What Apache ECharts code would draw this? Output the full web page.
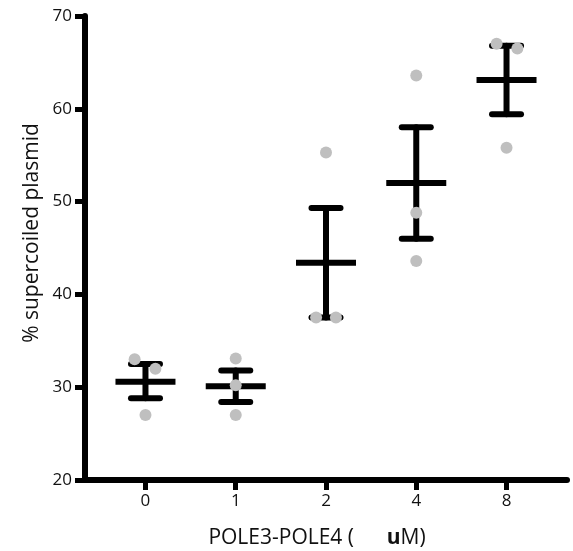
<!DOCTYPE html>
<html>
<head>
<meta charset="utf-8">
<script src="https://cdn.jsdelivr.net/npm/echarts@6/dist/echarts.min.js"></script>
<style>
  html, body { margin: 0; padding: 0; background: #fff; }
  #chart { width: 573px; height: 551px; }
</style>
</head>
<body>
<div id="chart"></div>
<script>
// doses (category labels)
const doses = ['0', '1', '2', '4', '8'];
// individual replicates
const rep1 = [33.0, 33.1, 55.3, 63.6, 67.0];
const rep2 = [32.0, 30.2, 37.5, 48.8, 66.5];
const rep3 = [27.0, 27.0, 37.5, 43.6, 55.8];
// small horizontal jitter of the dots (in category units)
const jit1 = [-0.12, 0, 0, 0, -0.11];
const jit2 = [0.11, 0, -0.11, 0, 0.12];
const jit3 = [0, 0, 0.11, 0, 0];
// mean and SEM bars
const means = [30.6, 30.1, 43.4, 52.0, 63.1];
const upper = [32.5, 31.8, 49.3, 58.0, 66.8];
const lower = [28.8, 28.4, 37.5, 46.0, 59.4];
const yTicks = [20, 30, 40, 50, 60, 70];

const myChart = echarts.init(document.getElementById('chart'));

const dots = [];
doses.forEach((d, i) => {
  dots.push([i + jit1[i], rep1[i]]);
  dots.push([i + jit2[i], rep2[i]]);
  dots.push([i + jit3[i], rep3[i]]);
});

const bars = doses.map((d, i) => [i, means[i], upper[i], lower[i]]);

const font = 'Open Sans';
const ink = '#111';

let option = {
  animation: false,
  grid: {
    left: 85,
    right: 6,
    top: 16,
    bottom: 71
  },
  xAxis: {
    type: 'value',
    min: -0.67,
    max: 4.67,
    axisLine: { onZero: false, lineStyle: { color: '#000', width: 6 } },
    axisTick: {
      customValues: [0, 1, 2, 3, 4],
      length: 10,
      lineStyle: { color: '#000', width: 5 }
    },
    axisLabel: {
      customValues: [0, 1, 2, 3, 4],
      formatter: v => doses[Math.round(v)],
      margin: 13,
      color: ink,
      fontSize: 17,
      fontFamily: font
    },
    splitLine: { show: false }
  },
  yAxis: {
    type: 'value',
    min: 20,
    max: 70,
    interval: 10,
    axisLine: { show: true, onZero: false, lineStyle: { color: '#000', width: 6 } },
    axisTick: {
      show: true,
      length: 10,
      lineStyle: { color: '#000', width: 5 }
    },
    axisLabel: {
      formatter: v => yTicks.indexOf(v) >= 0 ? String(v) : '',
      margin: 13,
      color: ink,
      fontSize: 17,
      fontFamily: font
    },
    splitLine: { show: false }
  },
  graphic: [
    {
      type: 'text',
      x: 32,
      y: 233,
      rotation: Math.PI / 2,
      style: {
        text: '% supercoiled plasmid',
        font: '21px "Open Sans"',
        fill: ink,
        align: 'center',
        verticalAlign: 'middle'
      }
    },
    {
      type: 'text',
      x: 317,
      y: 538,
      style: {
        text: 'POLE3-POLE4 (      {b|u}M)',
        font: '21px "Open Sans"',
        fill: ink,
        align: 'center',
        verticalAlign: 'middle',
        rich: {
          b: { font: 'bold 21px "Open Sans"', fill: ink }
        }
      }
    }
  ],
  series: [
    {
      type: 'custom',
      z: 2,
      data: bars,
      renderItem: function (params, api) {
        const x = api.value(0);
        const pm = api.coord([x, api.value(1)]);
        const pu = api.coord([x, api.value(2)]);
        const pl = api.coord([x, api.value(3)]);
        const halfMean = 30;
        const halfCap = 14.5;
        const st = { stroke: '#000', lineWidth: 6, lineCap: 'round' };
        return {
          type: 'group',
          children: [
            { type: 'line', shape: { x1: pu[0], y1: pu[1], x2: pl[0], y2: pl[1] }, style: st },
            { type: 'line', shape: { x1: pu[0] - halfCap, y1: pu[1], x2: pu[0] + halfCap, y2: pu[1] }, style: st },
            { type: 'line', shape: { x1: pl[0] - halfCap, y1: pl[1], x2: pl[0] + halfCap, y2: pl[1] }, style: st },
            { type: 'line', shape: { x1: pm[0] - halfMean, y1: pm[1], x2: pm[0] + halfMean, y2: pm[1] },
              style: { stroke: '#000', lineWidth: 6, lineCap: 'butt' } }
          ]
        };
      }
    },
    {
      type: 'scatter',
      z: 3,
      symbolSize: 12,
      itemStyle: { color: '#bfbfbf', opacity: 1 },
      data: dots
    }
  ]
};
myChart.setOption(option);
</script>
</body>
</html>
